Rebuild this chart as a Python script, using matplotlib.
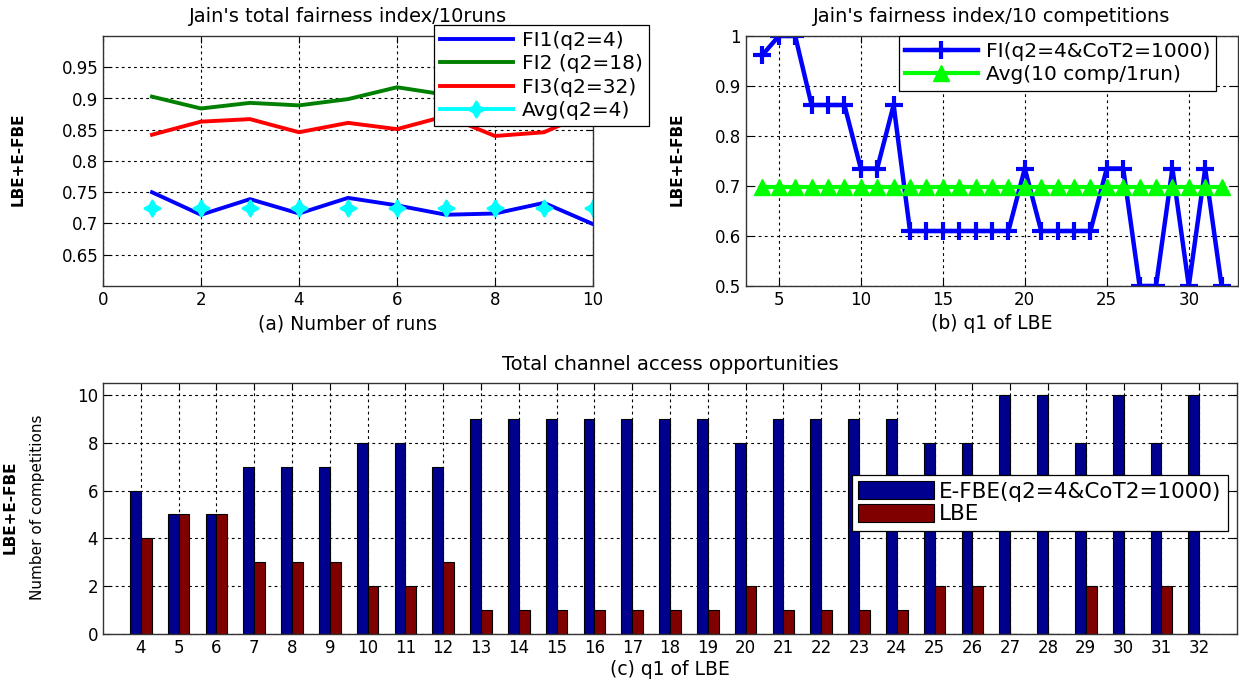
import numpy as np
import matplotlib.pyplot as plt
from matplotlib.lines import Line2D
from matplotlib.ticker import FuncFormatter

# (a) Jain's total fairness index over 10 runs
runs = [1, 2, 3, 4, 5, 6, 7, 8, 9, 10]
fi1 = [0.750, 0.714, 0.739, 0.716, 0.741, 0.729, 0.714, 0.716, 0.733, 0.699]
fi2 = [0.903, 0.884, 0.893, 0.889, 0.899, 0.918, 0.906, 0.905, 0.910, 0.915]
fi3 = [0.842, 0.863, 0.867, 0.846, 0.861, 0.851, 0.872, 0.840, 0.846, 0.880]
avg_runs = [0.724, 0.724, 0.724, 0.724, 0.724, 0.724, 0.724, 0.724, 0.724, 0.724]

# (b) fairness index per q1 of LBE
q1 = list(range(4, 33))
fi_comp = [0.962, 1.0, 1.0, 0.862, 0.862, 0.862, 0.735, 0.735, 0.862,
           0.610, 0.610, 0.610, 0.610, 0.610, 0.610, 0.610, 0.735,
           0.610, 0.610, 0.610, 0.610, 0.735, 0.735, 0.5, 0.5, 0.735,
           0.5, 0.735, 0.5]
avg_comp = [0.699] * len(q1)

# (c) channel access opportunities
efbe = [6, 5, 5, 7, 7, 7, 8, 8, 7, 9, 9, 9, 9, 9, 9, 9, 8, 9, 9, 9, 9,
        8, 8, 10, 10, 8, 10, 8, 10]
lbe = [4, 5, 5, 3, 3, 3, 2, 2, 3, 1, 1, 1, 1, 1, 1, 1, 2, 1, 1, 1, 1,
       2, 2, 0, 0, 2, 0, 2, 0]

W, H = 1239, 681
fig = plt.figure(figsize=(W / 100, H / 100), dpi=100)


def box(l, t, r, b):
    return [l / W, 1 - b / H, (r - l) / W, (b - t) / H]


def style(ax):
    ax.grid(True, color='black', linestyle=(0, (2.5, 3)), linewidth=0.8)
    ax.tick_params(direction='in', top=True, right=True, length=5,
                   labelsize=12, width=0.8)
    for s in ax.spines.values():
        s.set_linewidth(1.0)
        s.set_color('#333333')


fmt = FuncFormatter(lambda v, p: '%g' % round(v, 3))
star4 = (4, 1, 0)

# ---- (a)
ax1 = fig.add_axes(box(103, 36, 593, 286))
ax1.plot(runs, fi1, color='blue', lw=2.8, label='FI1(q2=4)')
ax1.plot(runs, fi2, color=(0, 0.5, 0), lw=2.8, label='FI2 (q2=18)')
ax1.plot(runs, fi3, color='red', lw=2.8, label='FI3(q2=32)')
ax1.plot(runs, avg_runs, linestyle='none', color='cyan', marker=star4,
         ms=12, mew=1.5)
ax1.set_xlim(0, 10)
ax1.set_ylim(0.6, 1.0)
ax1.set_xticks([0, 2, 4, 6, 8, 10])
ax1.set_yticks([0.65, 0.7, 0.75, 0.8, 0.85, 0.9, 0.95])
ax1.yaxis.set_major_formatter(fmt)
style(ax1)
ax1.set_title("Jain's total fairness index/10runs", fontsize=14, pad=10)
ax1.set_xlabel('(a) Number of runs', fontsize=13.5, labelpad=4)
h, l = ax1.get_legend_handles_labels()
h.append(Line2D([], [], color='cyan', lw=2.8, marker=star4, ms=12, mew=1.5))
l.append('Avg(q2=4)')
leg1 = ax1.legend(h, l, loc='upper left',
                  bbox_to_anchor=(434 / W, 1 - 25 / H),
                  bbox_transform=fig.transFigure, borderaxespad=0,
                  fontsize=14.5, handlelength=3.6, handletextpad=0.45,
                  labelspacing=0.22, borderpad=0.3, fancybox=False,
                  framealpha=1, edgecolor='black', numpoints=1)
leg1.get_frame().set_linewidth(0.9)
leg1.set_zorder(10)
fig.text(18 / W, 1 - 159 / H, 'LBE+E-FBE', rotation=90, fontsize=11,
         fontweight='bold', ha='center', va='center')

# ---- (b)
ax2 = fig.add_axes(box(746, 36, 1238, 286))
ax2.plot(q1, fi_comp, color='blue', lw=3.2, marker='+', ms=13, mew=3,
         label='FI(q2=4&CoT2=1000)')
ax2.plot(q1, avg_comp, color=(0, 1, 0), lw=3, marker='^', ms=11,
         label='Avg(10 comp/1run)')
ax2.set_xlim(3, 33)
ax2.set_ylim(0.5, 1.0)
ax2.set_xticks([5, 10, 15, 20, 25, 30])
ax2.set_yticks([0.5, 0.6, 0.7, 0.8, 0.9, 1.0])
ax2.yaxis.set_major_formatter(fmt)
style(ax2)
ax2.set_title("Jain's fairness index/10 competitions", fontsize=14, pad=10)
ax2.set_xlabel('(b) q1 of LBE', fontsize=13.5, labelpad=4)
leg2 = ax2.legend(loc='upper left', bbox_to_anchor=(899 / W, 1 - 36 / H),
                  bbox_transform=fig.transFigure, borderaxespad=0,
                  fontsize=14.5, handlelength=3.6, handletextpad=0.4,
                  labelspacing=0.22, borderpad=0.3, fancybox=False,
                  framealpha=1, edgecolor='black', numpoints=1)
leg2.get_frame().set_linewidth(0.9)
fig.text(677 / W, 1 - 159 / H, 'LBE+E-FBE', rotation=90, fontsize=11,
         fontweight='bold', ha='center', va='center')

# ---- (c)
ax3 = fig.add_axes(box(103, 383, 1237, 634))
bw = 0.285
ax3.bar(q1, efbe, width=-bw, align='edge', color=(0, 0, 0.5625),
        edgecolor='black', linewidth=0.8, label='E-FBE(q2=4&CoT2=1000)')
ax3.bar(q1, lbe, width=bw, align='edge', color=(0.5, 0, 0),
        edgecolor='black', linewidth=0.8, label='LBE')
ax3.set_axisbelow(True)
ax3.set_xlim(3, 33)
ax3.set_ylim(0, 10.5)
ax3.set_xticks(q1)
ax3.set_yticks([0, 2, 4, 6, 8, 10])
style(ax3)
ax3.set_title('Total channel access opportunities', fontsize=14, pad=9)
ax3.set_xlabel('(c) q1 of LBE', fontsize=13.5, labelpad=2)
leg3 = ax3.legend(loc='upper left', bbox_to_anchor=(852 / W, 1 - 475 / H),
                  bbox_transform=fig.transFigure, borderaxespad=0,
                  fontsize=15.5, handlelength=3.5, handleheight=0.9,
                  handletextpad=0.25, labelspacing=0.1, borderpad=0.3,
                  fancybox=False, framealpha=1, edgecolor='black')
leg3.get_frame().set_linewidth(0.9)
fig.text(38 / W, 1 - 507 / H, 'Number of competitions', rotation=90,
         fontsize=11, ha='center', va='center')
fig.text(10 / W, 1 - 507 / H, 'LBE+E-FBE', rotation=90, fontsize=11,
         fontweight='bold', ha='center', va='center')

fig.savefig('out.png', dpi=100)
